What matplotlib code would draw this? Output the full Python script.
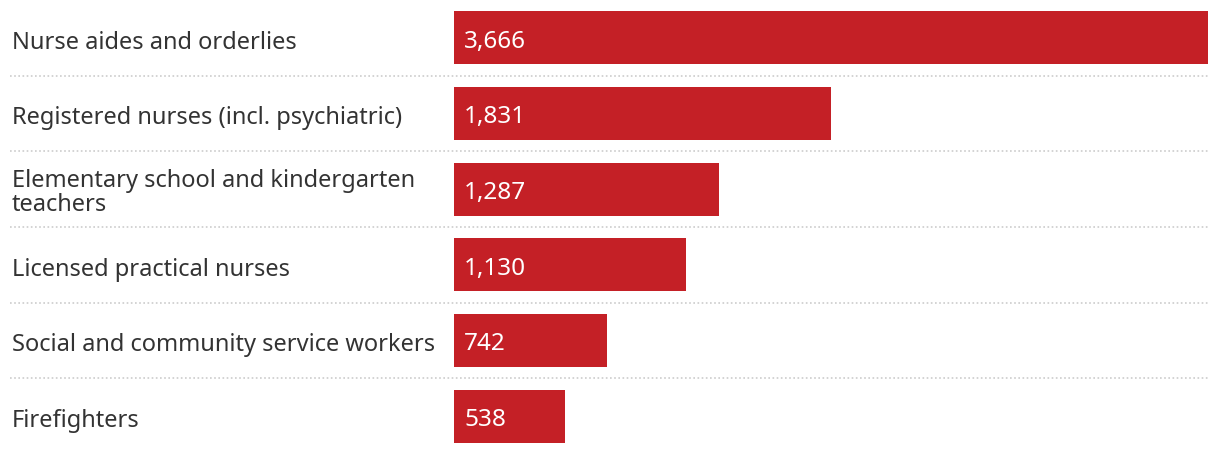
import matplotlib
matplotlib.use("Agg")
import matplotlib.pyplot as plt
from matplotlib.transforms import blended_transform_factory

categories = ["Nurse aides and orderlies",
              "Registered nurses (incl. psychiatric)",
              "Elementary school and kindergarten\nteachers",
              "Licensed practical nurses",
              "Social and community service workers",
              "Firefighters"]
values = [3666, 1831, 1287, 1130, 742, 538]

W, H = 1220, 454
ROW = 76.0
fig = plt.figure(figsize=(W/100, H/100), dpi=100)
ax = fig.add_axes([454/W, 0, 754/W, 1])
ypos = list(range(len(values)))
ax.barh(ypos, values, height=53/ROW, color="#C42026")
ax.set_xlim(0, max(values))
ax.set_ylim(len(values) - 0.5, -0.5)
ax.axis("off")

font = "Noto Sans"
fs = 17
tr = blended_transform_factory(fig.transFigure, ax.transData)
for y, (c, v) in enumerate(zip(categories, values)):
    off = (22 if "\n" in c else 11) / ROW
    ax.text(12/W, y + off, c, transform=tr, ha="left", va="baseline", fontsize=fs,
            color="#333333", family=font, linespacing=1.0)
    ax.text(10/754*max(values), y + 10/ROW, f"{v:,}", ha="left", va="baseline",
            fontsize=17.5, color="white", family=font)
    if y < len(values) - 1:
        ax.plot([10/W, 1208/W], [y + 0.5, y + 0.5], transform=tr, clip_on=False,
                color="#cccccc", lw=1.2, ls=(0, (1, 1.5)))

fig.savefig("out.png", dpi=100)
